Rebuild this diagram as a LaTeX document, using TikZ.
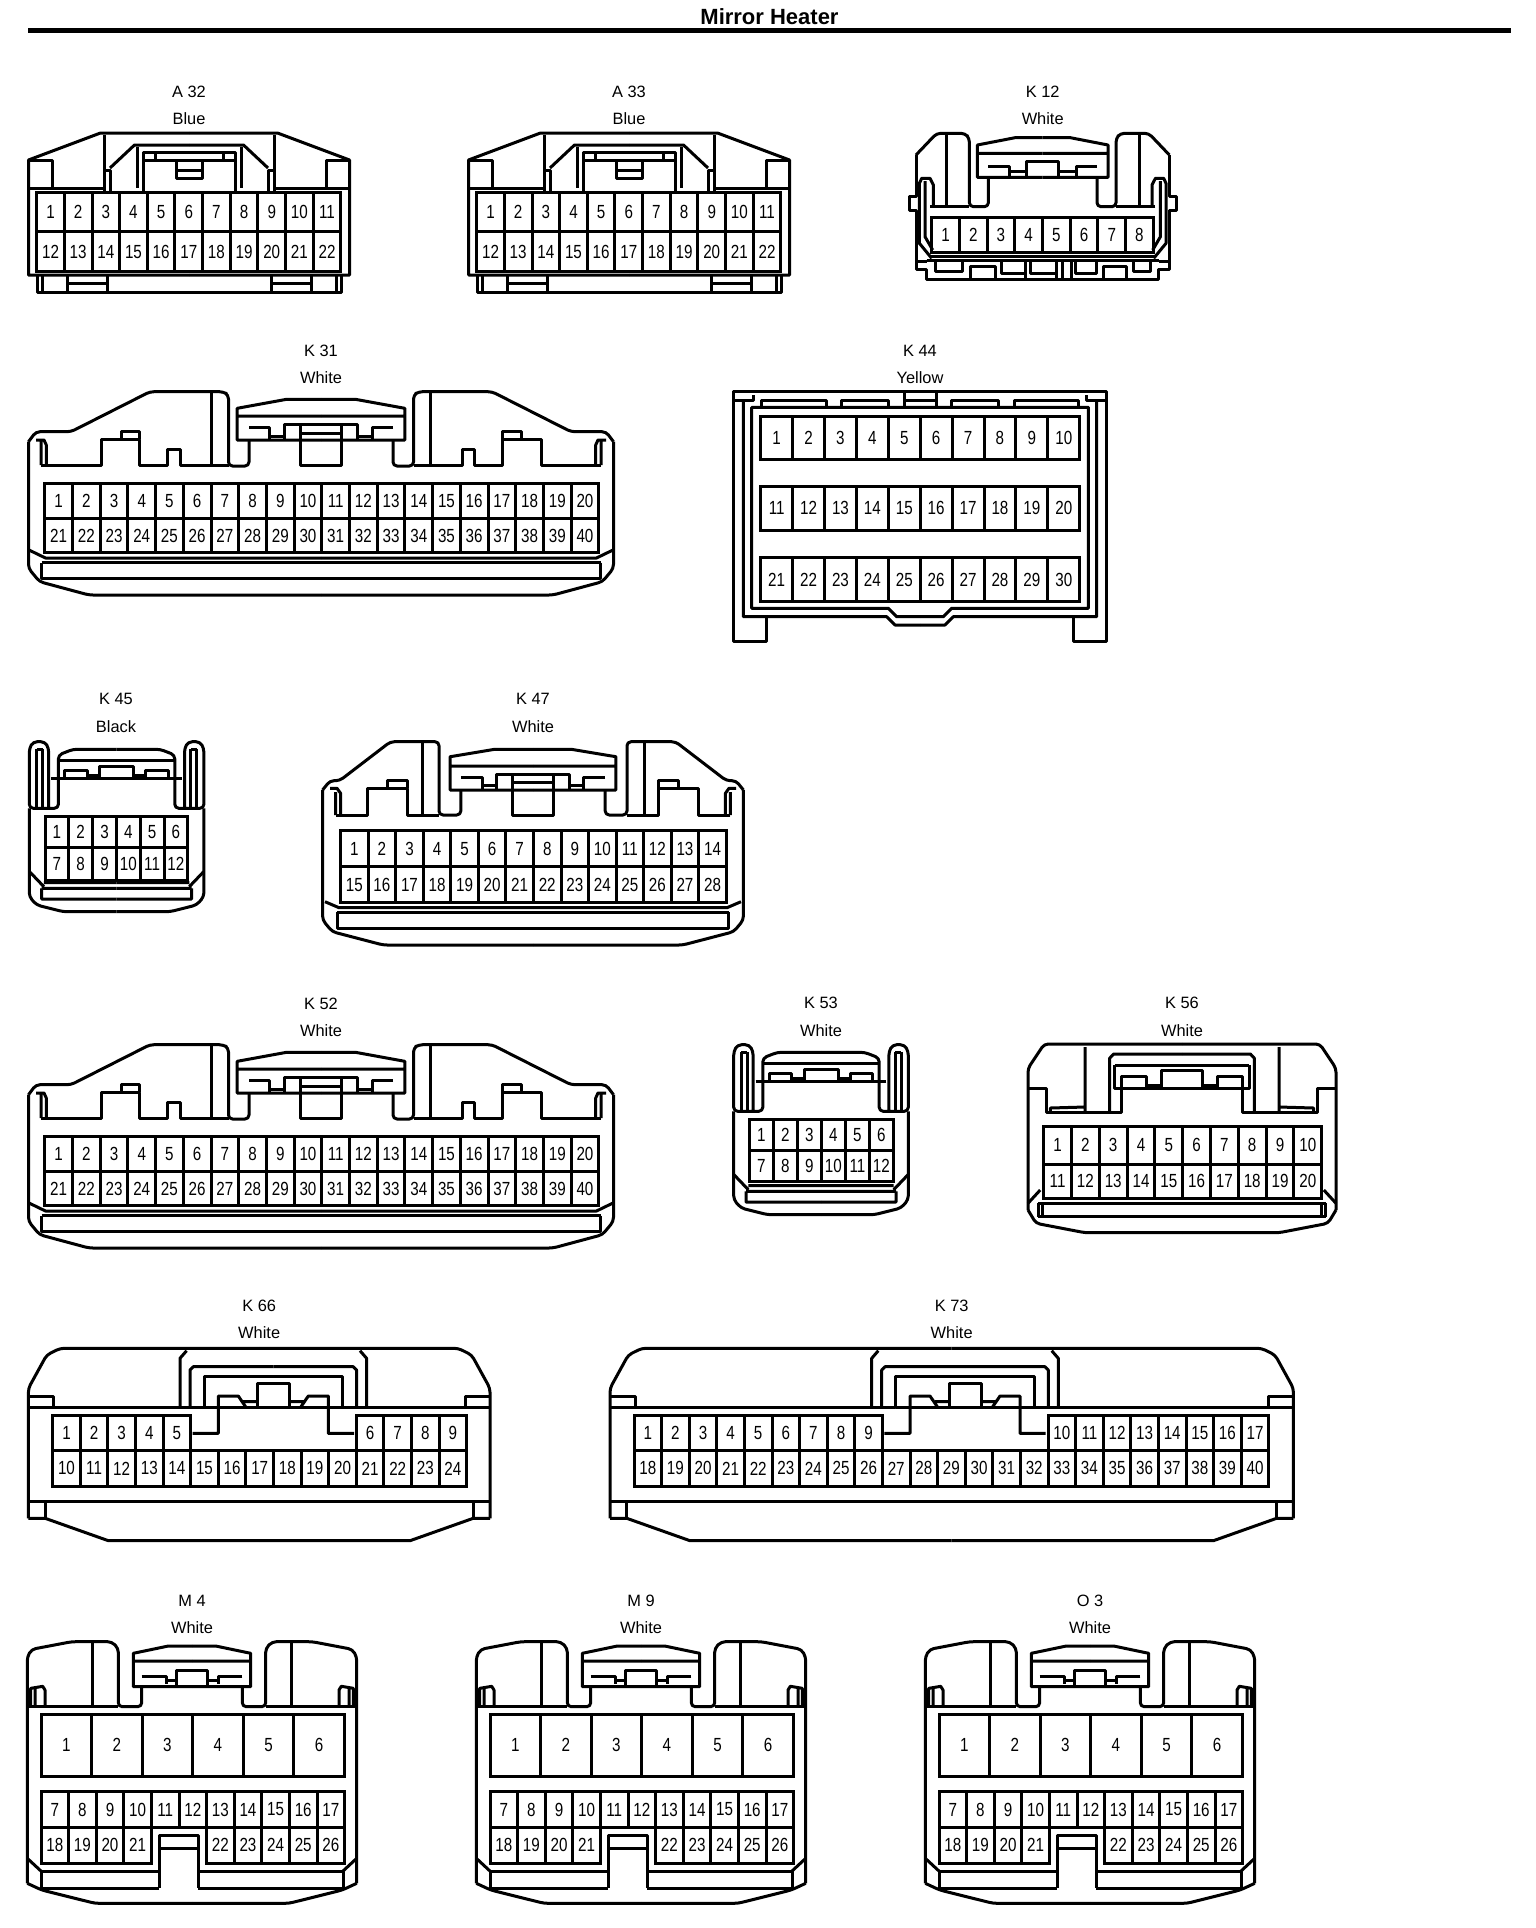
\documentclass[tikz,border=0pt]{standalone}
\usepackage{fontspec}
\setmainfont{Liberation Sans}
\newfontfamily\pinfont[FakeStretch=0.8]{Liberation Sans}
\tikzset{
  body/.style={line width=1.5pt,line join=round},
  wall/.style={body,rounded corners=2pt},
  pin/.style={draw,line width=1.5pt,inner sep=0pt,font=\pinfont\fontsize{9.5}{10}\selectfont},
  tag/.style={inner sep=0pt,font=\fontsize{8.2}{10}\selectfont},
}
% one row of pins: name, left x, cell width, top y, bottom y, first pin, last pin
\newcommand{\pinrow}[7]{
  \foreach \n [count=\c from 0] in {#6,...,#7}
    \node[pin,minimum width=#3*0.5pt,minimum height=(#5-#4)*0.5pt] (#1-\n) at ({#2+(\c+0.5)*#3},{(#4+#5)/2}) {\n};
}
\newcommand{\bodyA}[1]{
  \foreach \s in {1,-1}{
    \begin{scope}[shift={(#1,0)},xscale=\s]
      \draw[body] (0,133) -- (-88.5,133) -- (-160.5,160) -- (-160.5,275) -- (0,275);
      \draw[body] (-152,275) -- (-152,292) -- (0,292) (-147,275) -- (-147,292);
      \draw[body] (-122,275) -- (-122,292) (-82,275) -- (-82,292) (-122,283) -- (-82,283);
      \draw[body] (-160.5,160) -- (-137,160) -- (-137,188.5) (-160.5,188.5) -- (-85,188.5);
      \draw[body] (-85,135) -- (-85,193) (-85,170) -- (-79,170) -- (-79,193);
      \draw[body] (-79,168) -- (-54.5,145) -- (0,145);
      \draw[body] (-79,192) -- (-46,192) (-46,192) -- (-46,152.5) -- (0,152.5);
      \draw[body] (-46,160) -- (0,160) (-34,152.5) -- (-34,160) (-52,147) -- (-52,188);
      \draw[body] (-13,160) -- (-13,178) -- (0,178) (-13,170) -- (0,170);
    \end{scope}
  }
}
\newcommand{\bodyL}[1]{
  \foreach \s in {1,-1}{
    \begin{scope}[shift={(321,#1)},xscale=\s]
      \draw[wall] (-292.5,441.7) -- (-285,431.7) -- (-250,431.7) -- (-171,391.7) -- (-97.6,391.7) -- (-92.5,395) -- (-92.5,466) -- (-72,466) -- (-72,440);
      \draw[body] (0,399.3) -- (-34.4,399.3) -- (-83.8,408.3) -- (-83.8,440) -- (0,440) (-83.8,416) -- (0,416);
      \draw[body] (-72,427.3) -- (-51.4,427.3) -- (-51.4,439.3) (-51.4,436) -- (-36.4,436) (-36.4,439.3) -- (-36.4,424) -- (0,424);
      \draw[body] (-20.6,424) -- (-20.6,465) -- (0,465) (-20.6,433.3) -- (0,433.3);
      \draw[body] (-280,465) -- (-220,465) -- (-220,439.3) -- (-181.4,439.3) -- (-181.4,465) -- (-153.8,465) -- (-153.8,449.3) -- (-141,449.3) -- (-141,465) -- (-92.5,465);
      \draw[body] (-200,439.3) -- (-200,431.7) -- (-181.4,431.7) -- (-181.4,439.3) (-109.5,393) -- (-109.5,465);
      \draw[body] (-285,440) -- (-277,440) -- (-274.7,445) -- (-274.7,465) (-280,441.7) -- (-280,465);
      \draw[wall] (-292.5,441.7) -- (-292.5,568.3) -- (-281.4,581.7) -- (-232,595) -- (0,595);
      \draw[body] (-279.5,562.7) -- (-279.5,578.3) -- (0,578.3) (-279.5,562.7) -- (0,562.7);
      \draw[body] (-292,550) -- (-275.5,558) -- (0,558);
    \end{scope}
  }
}
\newcommand{\bodyN}[2]{
  \foreach \s in {1,-1}{
    \begin{scope}[shift={(#1,#2)},xscale=\s]
      \draw[wall] (0,749.3) -- (-43.6,749.3) -- (-58.2,755) -- (-58.2,808.3) -- (-87.3,808.3) -- (-87.3,748.3) -- (-83.4,741.7) -- (-71.7,741.7) -- (-67.9,748.3) -- (-67.9,808.3);
      \draw[body] (-80,749) -- (-80,808) (-74,749) -- (-74,808) (-80,749) -- (-74,749);
      \draw[body] (-58.2,760.7) -- (0,760.7) (-65.4,778.3) -- (0,778.3);
      \draw[body] (-51.9,778.3) -- (-51.9,770.7) -- (-29.1,770.7) -- (-29.1,776.7) (-29.1,775) -- (-17,775) (-17,778.3) -- (-17,766) -- (0,766);
      \draw[wall] (-87.3,808.3) -- (-87.3,896.7) -- (-80,905) -- (-53.3,911.7) -- (0,911.7);
      \draw[body] (-75,888.3) -- (-75,899) -- (0,899) (-75,888.3) -- (0,888.3) (-87,871.7) -- (-72.7,886.7) (-72.7,882.5) -- (0,882.5);
    \end{scope}
  }
}
\newcommand{\bodyW}[3]{
  \foreach \s in {1,-1}{
    \begin{scope}[shift={(#1,0)},xscale=\s]
      \draw[wall] ({-230.8-#3},1518.3) -- ({-230.8-#3},1388.3) -- ({-212.5-#3},1355) -- ({-199-#3},1348.3) -- (0,1348.3);
      \draw[body] ({-230.8-#3},1518.3) -- ({-214-#3},1518.3) -- ({-150.8-#3},1540.7) -- (0,1540.7);
      \draw[body] ({-230.8-#3},1501.7) -- (0,1501.7) ({-214-#3},1501.7) -- ({-214-#3},1518.3);
      \draw[body] ({-230.8-#3},1396) -- ({-205.8-#3},1396) -- ({-205.8-#3},1407.3);
    \end{scope}
  }
  \draw[body] ({#1-230.8-#3},1407.3) -- ({#2-83.3},1407.3) ({#2+83.3},1407.3) -- ({#1+230.8+#3},1407.3);
  \foreach \s in {1,-1}{
    \begin{scope}[shift={(#2,0)},xscale=\s]
      \draw[body] (-93.3,1407.3) -- (-93.3,1358.3) -- (-86.7,1350.7) (-83.3,1407.3) -- (-83.3,1370) -- (-80,1366.7) -- (0,1366.7);
      \draw[body] (-83.3,1407.3) -- (-69.3,1407.3) -- (-69.3,1376) -- (0,1376) (-69.3,1407.3) -- (0,1407.3);
      \draw[body] (-16,1407.3) -- (-16,1383.3) -- (0,1383.3);
      \draw[body] (-80.7,1433.3) -- (-55,1433.3) -- (-55,1396) -- (-35,1396) -- (-27.3,1407.3) (-30,1401.7) -- (-16,1401.7);
    \end{scope}
  }
}
\newcommand{\bodyM}[1]{
  \foreach \s in {1,-1}{
    \begin{scope}[shift={(#1,0)},xscale=\s]
      \draw[wall] (-164.7,1883.3) -- (-164.7,1656.7) -- (-160.3,1649.3) -- (-120.3,1641.7) -- (-80.3,1641.7) -- (-73.7,1648.3) -- (-73.7,1706.7) -- (-50.3,1706.7) -- (-50.3,1686.7);
      \draw[body] (0,1646) -- (-23.7,1646) -- (-58.7,1653.3) -- (-58.7,1686.7) -- (0,1686.7) (-58.7,1661) -- (0,1661);
      \draw[body] (-50.3,1676) -- (-26,1676) -- (-26,1684) (-26,1680) -- (-15.5,1680) (-15.5,1686.7) -- (-15.5,1670) -- (0,1670);
      \draw[body] (-99.3,1643) -- (-99.3,1706) (-164.7,1706) -- (-73.7,1706);
      \draw[body] (-161.3,1705) -- (-161.3,1688.3) -- (-149.3,1686.3) -- (-147,1690) -- (-147,1706) (-157,1688) -- (-157,1705);
      \draw[wall] (-164.7,1883.3) -- (-150.3,1890) -- (-97,1903.3) -- (0,1903.3);
      \draw[body] (-164.7,1858.3) -- (-150.3,1871.7);
    \end{scope}
  }
  \begin{scope}[shift={(#1-192,0)}]
    \draw[body] (159.3,1888) -- (159.3,1835) -- (198.3,1835) -- (198.3,1888) (159.3,1848.3) -- (198.3,1848.3);
    \draw[body] (159.3,1871.7) -- (41.7,1871.7) -- (41.7,1888) -- (159.3,1888);
    \draw[body] (198.3,1871.7) -- (343.3,1871.7) -- (343.3,1888) -- (198.3,1888);
  \end{scope}
}
\newcommand{\pinsM}[2]{
  \pinrow{#1}{#2+41}{50.55}{1714}{1776}{1}{6}
  \pinrow{#1}{#2+41}{27.6}{1791.7}{1827.3}{7}{17}
  \pinrow{#1}{#2+41}{27.6}{1827.3}{1863.3}{18}{21}
  \pinrow{#1}{#2+206.6}{27.6}{1827.3}{1863.3}{22}{26}
}
\begin{document}
\begin{tikzpicture}[x=0.5pt,y=-0.5pt]
  \useasboundingbox (0,0) rectangle (1536,1928);
  \node[inner sep=0pt,font=\bfseries\fontsize{11}{12}\selectfont] (title) at (769.5,17) {Mirror Heater};
  \draw[line width=2.2pt] (28,30.5) -- (1511,30.5);

  % first row
  \node[tag] (a32-id) at (189,92) {A 32};
  \node[tag] (a32-col) at (189,119) {Blue};
  \bodyA{189}
  \pinrow{a32}{36.7}{27.65}{192.7}{231.7}{1}{11}
  \pinrow{a32}{36.7}{27.65}{231.7}{271.7}{12}{22}

  \node[tag] (a33-id) at (629,92) {A 33};
  \node[tag] (a33-col) at (629,119) {Blue};
  \bodyA{629}
  \pinrow{a33}{476.7}{27.65}{192.7}{231.7}{1}{11}
  \pinrow{a33}{476.7}{27.65}{231.7}{271.7}{12}{22}

  \node[tag] (k12-id) at (1042.7,91.7) {K 12};
  \node[tag] (k12-col) at (1042.7,119) {White};
  \foreach \s in {1,-1}{
    \begin{scope}[shift={(1042.7,0)},xscale=\s]
      \draw[wall] (-126.7,155) -- (-106,133.3) -- (-77.7,133.3) -- (-73.3,138.3) -- (-73.3,206.7) -- (-54.3,206.7) -- (-54.3,177.3);
      \draw[body] (-126.7,155) -- (-126.7,196.7) -- (-133.3,196.7) -- (-133.3,210) -- (-126.7,210) -- (-126.7,269.3) -- (-116,269.3) -- (-116,279.3) -- (0,279.3);
      \draw[body] (0,137.7) -- (-27.7,137.7) -- (-65.3,145) -- (-65.3,177.3) -- (0,177.3) (-65.3,153.3) -- (0,153.3);
      \draw[body] (-54.3,166.7) -- (-33.3,166.7) -- (-33.3,177.3) (-33.3,171.7) -- (-16,171.7) (-16,177.3) -- (-16,161.7) -- (0,161.7);
      \draw[body] (-96.7,135) -- (-96.7,205) (-112.7,206) -- (-73.3,206);
      \draw[body] (-109.3,206) -- (-109.3,185) -- (-112.7,178.3) -- (-121,178.3) -- (-123.3,183.3) -- (-123.3,243.3) -- (-111,258.3) (-117.7,181) -- (-117.7,236.7) -- (-110,250);
      \draw[body] (-112.7,256) -- (0,256) (-116,260) -- (0,260) (-126,261.7) -- (-116,261.7);
    \end{scope}
  }
  \draw[body] (935,261.7) -- (935,271.7) -- (962.7,271.7) -- (962.7,261.7);
  \draw[body] (970.7,278) -- (970.7,266.7) -- (995,266.7) -- (995,278);
  \draw[body] (1001.7,261.7) -- (1001.7,273) -- (1025,273) (1025,261.7) -- (1025,278);
  \draw[body] (1030,261.7) -- (1030,273) -- (1056.7,273) (1056.7,261.7) -- (1056.7,278);
  \draw[body] (1062.7,261.7) -- (1062.7,278) (1071.7,261.7) -- (1071.7,278);
  \draw[body] (1075,261.7) -- (1075,273) -- (1096.7,273) -- (1096.7,261.7);
  \draw[body] (1103.3,278) -- (1103.3,266.7) -- (1126.7,266.7) -- (1126.7,278);
  \draw[body] (1133.3,261.7) -- (1133.3,271.7) -- (1150,271.7) -- (1150,261.7);
  \pinrow{k12}{931.7}{27.7}{217.3}{252.7}{1}{8}

  % second row
  \node[tag] (k31-id) at (321,350.7) {K 31};
  \node[tag] (k31-col) at (321,377.3) {White};
  \bodyL{0}
  \pinrow{k31}{44.8}{27.7}{483.3}{518.3}{1}{20}
  \pinrow{k31}{44.8}{27.7}{518.3}{552.7}{21}{40}

  \node[tag] (k44-id) at (920,350.7) {K 44};
  \node[tag] (k44-col) at (920,377.7) {Yellow};
  \foreach \s in {1,-1}{
    \begin{scope}[shift={(920,0)},xscale=\s]
      \draw[body] (0,391.7) -- (-186.7,391.7) -- (-186.7,641.7) -- (-153.3,641.7) -- (-153.3,617);
      \draw[body] (-176.7,400) -- (-176.7,616.7) -- (-33.3,616.7) -- (-25,625) -- (0,625);
      \draw[body] (-186.7,400) -- (-166.7,400) -- (-166.7,395);
      \draw[body] (0,407.3) -- (-168.3,407.3) -- (-168.3,608.3) -- (-31.7,608.3) -- (-23.3,616.7) -- (0,616.7);
      \draw[body] (-158.3,407) -- (-158.3,400.7) -- (-94,400.7) -- (-94,407);
      \draw[body] (-78.3,407) -- (-78.3,400.7) -- (-31.7,400.7) -- (-31.7,407);
      \draw[body] (-16,407) -- (-16,392) (-16,400.7) -- (0,400.7);
    \end{scope}
  }
  \pinrow{k44}{760.7}{31.9}{416}{459.3}{1}{10}
  \pinrow{k44}{760.7}{31.9}{486.7}{530}{11}{20}
  \pinrow{k44}{760.7}{31.9}{557.3}{601.7}{21}{30}

  % third row
  \node[tag] (k45-id) at (116,699) {K 45};
  \node[tag] (k45-col) at (116,727) {Black};
  \bodyN{116.6}{0}
  \pinrow{k45}{45}{23.8}{816}{847.3}{1}{6}
  \pinrow{k45}{45}{23.8}{847.3}{880}{7}{12}

  \node[tag] (k47-id) at (533,699) {K 47};
  \node[tag] (k47-col) at (533,727) {White};
  \foreach \s in {1,-1}{
    \begin{scope}[shift={(533,0)},xscale=\s]
      \draw[wall] (-210.4,790) -- (-203,780.7) -- (-193.4,780.7) -- (-142.5,741.7) -- (-94,741.7) -- (-94,815) -- (-72.2,815) -- (-72.2,790);
      \draw[body] (0,749.3) -- (-38.3,749.3) -- (-82.9,756.7) -- (-82.9,790) -- (0,790) (-82.9,766) -- (0,766);
      \draw[body] (-197.3,815) -- (-165.3,815) -- (-165.3,788.3) -- (-125.5,788.3) -- (-125.5,815) -- (-94,815);
      \draw[body] (-145.9,788.3) -- (-145.9,780.7) -- (-125.5,780.7) -- (-125.5,788.3) (-111,742) -- (-111,815);
      \draw[body] (-203,788.3) -- (-196,788.3) -- (-192.4,793.3) -- (-192.4,815) (-197.3,792) -- (-197.3,815);
      \draw[body] (-72.2,777.3) -- (-50.4,777.3) -- (-50.4,790) (-50.4,785) -- (-36.8,785) (-36.8,790) -- (-36.8,774) -- (0,774);
      \draw[body] (-20.4,774) -- (-20.4,815) -- (0,815) (-20.4,782.7) -- (0,782.7);
      \draw[wall] (-210.4,790) -- (-210.4,920) -- (-200.7,931.7) -- (-149.8,945) -- (0,945);
      \draw[body] (-195.8,912.3) -- (-195.8,928.3) -- (0,928.3) (-195.8,912.3) -- (0,912.3);
      \draw[body] (-208,901.7) -- (-194,907.7) -- (0,907.7);
    \end{scope}
  }
  \pinrow{k47}{340.6}{27.55}{830.7}{866.7}{1}{14}
  \pinrow{k47}{340.6}{27.55}{866.7}{902.7}{15}{28}

  % fourth row
  \node[tag] (k52-id) at (321,1003.7) {K 52};
  \node[tag] (k52-col) at (321,1030.3) {White};
  \bodyL{653}
  \pinrow{k52}{44.8}{27.7}{1136.3}{1171.3}{1}{20}
  \pinrow{k52}{44.8}{27.7}{1171.3}{1205.7}{21}{40}

  \node[tag] (k53-id) at (821,1003.3) {K 53};
  \node[tag] (k53-col) at (821,1030.7) {White};
  \bodyN{821}{303}
  \pinrow{k53}{749.4}{24}{1119.3}{1150.7}{1}{6}
  \pinrow{k53}{749.4}{24}{1150.7}{1181.7}{7}{12}

  \node[tag] (k56-id) at (1182,1003.3) {K 56};
  \node[tag] (k56-col) at (1182,1030.7) {White};
  \foreach \s in {1,-1}{
    \begin{scope}[shift={(1182,0)},xscale=\s]
      \draw[wall] (-154,1210) -- (-154,1068.3) -- (-137.8,1044) -- (0,1044);
      \draw[wall] (-154,1210) -- (-146,1223.3) -- (-97,1232.7) -- (0,1232.7);
      \draw[body] (-154,1088.3) -- (-135.7,1088.3) -- (-135.7,1112.7) -- (-60.2,1112.7) -- (-60.2,1088.3);
      \draw[body] (-97,1047) -- (-97,1112) (-131.6,1112) -- (-131.6,1108) -- (-97,1107);
      \draw[body] (-72.4,1112) -- (-72.4,1058.3) -- (-68.4,1054) -- (0,1054);
      \draw[body] (-67.1,1065) -- (0,1065) (-67.1,1065) -- (-67.1,1088.3) -- (0,1088.3);
      \draw[body] (-60.2,1088.3) -- (-60.2,1076) -- (-35.7,1076) -- (-35.7,1086.7) (-35.7,1085) -- (-20.6,1085) (-20.6,1088.3) -- (-20.6,1070.7) -- (0,1070.7);
      \draw[body] (-143.9,1203.3) -- (0,1203.3) (-143.9,1216.7) -- (0,1216.7) (-143.9,1203.3) -- (-143.9,1216.7) (-139.8,1203.3) -- (-139.8,1216.7);
      \draw[body] (-154,1203.3) -- (-141.8,1190);
    \end{scope}
  }
  \pinrow{k56}{1043.7}{27.8}{1126.7}{1164}{1}{10}
  \pinrow{k56}{1043.7}{27.8}{1164}{1198.3}{11}{20}

  % fifth row
  \node[tag] (k66-id) at (259.2,1306) {K 66};
  \node[tag] (k66-col) at (259.2,1333) {White};
  \bodyW{259.2}{273.3}{0}
  \pinrow{k66}{52.7}{27.6}{1415}{1450.7}{1}{5}
  \pinrow{k66}{356.3}{27.6}{1415}{1450.7}{6}{9}
  \pinrow{k66}{52.7}{27.6}{1450.7}{1486}{10}{24}

  \node[tag] (k73-id) at (951.7,1306) {K 73};
  \node[tag] (k73-col) at (951.7,1333) {White};
  \bodyW{951.7}{965}{110.9}
  \pinrow{k73}{634}{27.6}{1415}{1450.7}{1}{9}
  \pinrow{k73}{1048}{27.6}{1415}{1450.7}{10}{17}
  \pinrow{k73}{634}{27.6}{1450.7}{1486}{18}{40}

  % last row
  \node[tag] (m4-id) at (192,1601) {M 4};
  \node[tag] (m4-col) at (192,1627.3) {White};
  \bodyM{192}
  \pinsM{m4}{0}

  \node[tag] (m9-id) at (641,1601) {M 9};
  \node[tag] (m9-col) at (641,1627.3) {White};
  \bodyM{641}
  \pinsM{m9}{449}

  \node[tag] (o3-id) at (1090,1601) {O 3};
  \node[tag] (o3-col) at (1090,1627.3) {White};
  \bodyM{1090}
  \pinsM{o3}{898}
\end{tikzpicture}
\end{document}
